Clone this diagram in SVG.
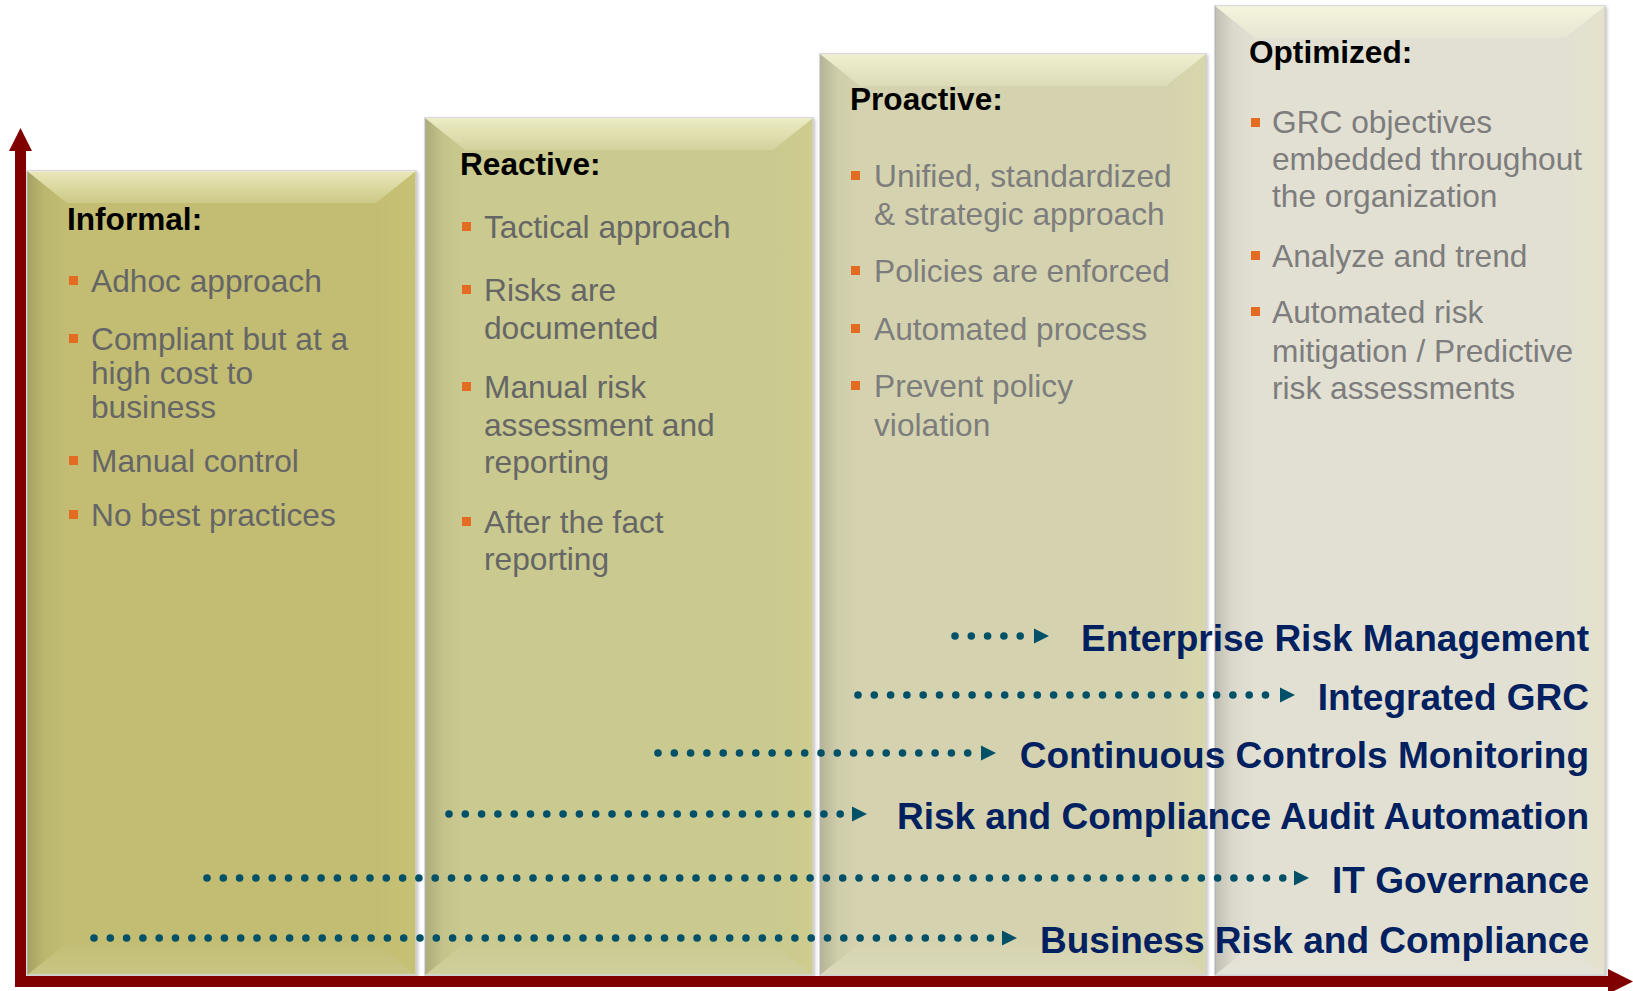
<svg xmlns="http://www.w3.org/2000/svg" xmlns:xlink="http://www.w3.org/1999/xlink" width="1633" height="991" viewBox="0 0 1633 991">
<style>
  text{font-family:"Liberation Sans",Arial,Helvetica,sans-serif}
  .h{font-weight:bold;font-size:31.6px;fill:#000}
  .b{font-size:31.7px;fill:#666}
  .g{fill:#7d7d7d}
  .lbl{font-weight:bold;font-size:37px;fill:#002060;text-anchor:end}
  .bul{fill:#e36c22}
  .dots{stroke:#005068;stroke-width:7.6;stroke-linecap:round;stroke-dasharray:0 16.3;fill:none}
  .ah{fill:#005068}
  .axis{fill:#800000}
  .rim{stroke:#cfcfcf;stroke-width:1.5}
  .bt{fill:url(#gT)}
  .bl{fill:url(#gL)}
  .br{fill:url(#gR)}
  .bb{fill:url(#gB)}
</style>
<defs>
  <linearGradient id="gL" x1="0" y1="0" x2="1" y2="0">
    <stop offset="0" stop-color="#000" stop-opacity="0.15"/>
    <stop offset="0.45" stop-color="#000" stop-opacity="0.03"/>
    <stop offset="1" stop-color="#000" stop-opacity="0"/>
  </linearGradient>
  <linearGradient id="gT" x1="0" y1="0" x2="0" y2="1">
    <stop offset="0" stop-color="#ffffe0" stop-opacity="0.65"/>
    <stop offset="1" stop-color="#ffffe0" stop-opacity="0.18"/>
  </linearGradient>
  <linearGradient id="gR" x1="0" y1="0" x2="1" y2="0">
    <stop offset="0" stop-color="#ffff80" stop-opacity="0"/>
    <stop offset="1" stop-color="#ffff80" stop-opacity="0.08"/>
  </linearGradient>
  <linearGradient id="gB" x1="0" y1="0" x2="0" y2="1">
    <stop offset="0" stop-color="#fff" stop-opacity="0.02"/>
    <stop offset="1" stop-color="#fff" stop-opacity="0.12"/>
  </linearGradient>
  <filter id="sh" x="-5%" y="-5%" width="110%" height="110%">
    <feDropShadow dx="1.5" dy="1.5" stdDeviation="1.5" flood-color="#808080" flood-opacity="0.45"/>
  </filter>
  <path id="ahp" d="M0,-7.5 L15,0 L0,7.5Z"/>
</defs>
<rect width="1633" height="991" fill="#fff"/>

<g id="informal">
  <rect x="27" y="171" width="389" height="804" fill="#c2bd73" class="rim" filter="url(#sh)"/>
  <polygon class="bt" points="27,171 416,171 376,203 67,203"/>
  <polygon class="bl" points="27,171 67,203 67,943 27,975"/>
  <polygon class="br" points="416,171 416,975 376,943 376,203"/>
  <polygon class="bb" points="27,975 67,943 376,943 416,975"/>
  <text class="h" x="67" y="230">Informal:</text>
  <rect class="bul" x="69" y="276" width="9" height="9"/>
  <text class="b" x="91" y="292">Adhoc approach</text>
  <rect class="bul" x="69" y="334" width="9" height="9"/>
  <text class="b" x="91" y="350">Compliant but at a</text>
  <text class="b" x="91" y="384">high cost to</text>
  <text class="b" x="91" y="418">business</text>
  <rect class="bul" x="69" y="456" width="9" height="9"/>
  <text class="b" x="91" y="472">Manual control</text>
  <rect class="bul" x="69" y="510" width="9" height="9"/>
  <text class="b" x="91" y="526">No best practices</text>
</g>

<g id="reactive">
  <rect x="425" y="118" width="388" height="857" fill="#cac98f" class="rim" filter="url(#sh)"/>
  <polygon class="bt" points="425,118 813,118 773,150 465,150"/>
  <polygon class="bl" points="425,118 465,150 465,943 425,975"/>
  <polygon class="br" points="813,118 813,975 773,943 773,150"/>
  <polygon class="bb" points="425,975 465,943 773,943 813,975"/>
  <text class="h" x="460" y="175">Reactive:</text>
  <rect class="bul" x="462" y="222" width="9" height="9"/>
  <text class="b" x="484" y="238">Tactical approach</text>
  <rect class="bul" x="462" y="285" width="9" height="9"/>
  <text class="b" x="484" y="301">Risks are</text>
  <text class="b" x="484" y="339">documented</text>
  <rect class="bul" x="462" y="382" width="9" height="9"/>
  <text class="b" x="484" y="398">Manual risk</text>
  <text class="b" x="484" y="436">assessment and</text>
  <text class="b" x="484" y="473">reporting</text>
  <rect class="bul" x="462" y="517" width="9" height="9"/>
  <text class="b" x="484" y="533">After the fact</text>
  <text class="b" x="484" y="570">reporting</text>
</g>

<g id="proactive">
  <rect x="820" y="54" width="386" height="921" fill="#d5d3af" class="rim" filter="url(#sh)"/>
  <polygon class="bt" points="820,54 1206,54 1166,86 860,86"/>
  <polygon class="bl" points="820,54 860,86 860,943 820,975"/>
  <polygon class="br" points="1206,54 1206,975 1166,943 1166,86"/>
  <polygon class="bb" points="820,975 860,943 1166,943 1206,975"/>
  <text class="h" x="850" y="110">Proactive:</text>
  <rect class="bul" x="851" y="171" width="9" height="9"/>
  <text class="b g" x="874" y="187">Unified, standardized</text>
  <text class="b g" x="874" y="225">&amp; strategic approach</text>
  <rect class="bul" x="851" y="266" width="9" height="9"/>
  <text class="b g" x="874" y="282">Policies are enforced</text>
  <rect class="bul" x="851" y="324" width="9" height="9"/>
  <text class="b g" x="874" y="340">Automated process</text>
  <rect class="bul" x="851" y="381" width="9" height="9"/>
  <text class="b g" x="874" y="397">Prevent policy</text>
  <text class="b g" x="874" y="436">violation</text>
</g>

<g id="optimized">
  <rect x="1215" y="6" width="390" height="969" fill="#e2e0d2" class="rim" filter="url(#sh)"/>
  <polygon class="bt" points="1215,6 1605,6 1565,38 1255,38"/>
  <polygon class="bl" points="1215,6 1255,38 1255,943 1215,975"/>
  <polygon class="br" points="1605,6 1605,975 1565,943 1565,38"/>
  <polygon class="bb" points="1215,975 1255,943 1565,943 1605,975"/>
  <text class="h" x="1249" y="63">Optimized:</text>
  <rect class="bul" x="1251" y="118" width="9" height="9"/>
  <text class="b g" x="1272" y="133">GRC objectives</text>
  <text class="b g" x="1272" y="170">embedded throughout</text>
  <text class="b g" x="1272" y="207">the organization</text>
  <rect class="bul" x="1251" y="251" width="9" height="9"/>
  <text class="b g" x="1272" y="267">Analyze and trend</text>
  <rect class="bul" x="1251" y="307" width="9" height="9"/>
  <text class="b g" x="1272" y="323">Automated risk</text>
  <text class="b g" x="1272" y="362">mitigation / Predictive</text>
  <text class="b g" x="1272" y="399">risk assessments</text>
</g>

<g id="axes">
  <rect class="axis" x="15" y="150" width="11" height="837"/>
  <polygon class="axis" points="9,151 32,151 20.5,128"/>
  <rect class="axis" x="15" y="976" width="1596" height="11"/>
  <polygon class="axis" points="1608,969 1633,981.5 1608,994"/>
</g>

<g id="connectors">
  <line class="dots" x1="955" y1="636" x2="1020.4" y2="636"/>
  <use xlink:href="#ahp" href="#ahp" class="ah" x="1034" y="636"/>
  <line class="dots" x1="858" y1="695" x2="1265.8" y2="695"/>
  <use xlink:href="#ahp" href="#ahp" class="ah" x="1280" y="695"/>
  <line class="dots" x1="658" y1="753" x2="968" y2="753"/>
  <use xlink:href="#ahp" href="#ahp" class="ah" x="981" y="753"/>
  <line class="dots" x1="449" y1="814" x2="840.5" y2="814"/>
  <use xlink:href="#ahp" href="#ahp" class="ah" x="852" y="814"/>
  <line class="dots" x1="207" y1="878" x2="1283" y2="878"/>
  <use xlink:href="#ahp" href="#ahp" class="ah" x="1294" y="878"/>
  <line class="dots" x1="94" y1="938" x2="990.8" y2="938"/>
  <use xlink:href="#ahp" href="#ahp" class="ah" x="1002" y="938"/>
</g>

<g id="labels">
  <text class="lbl" x="1589" y="651">Enterprise Risk Management</text>
  <text class="lbl" x="1589" y="710">Integrated GRC</text>
  <text class="lbl" x="1589" y="768">Continuous Controls Monitoring</text>
  <text class="lbl" x="1589" y="829">Risk and Compliance Audit Automation</text>
  <text class="lbl" x="1589" y="893">IT Governance</text>
  <text class="lbl" x="1589" y="953">Business Risk and Compliance</text>
</g>
</svg>
